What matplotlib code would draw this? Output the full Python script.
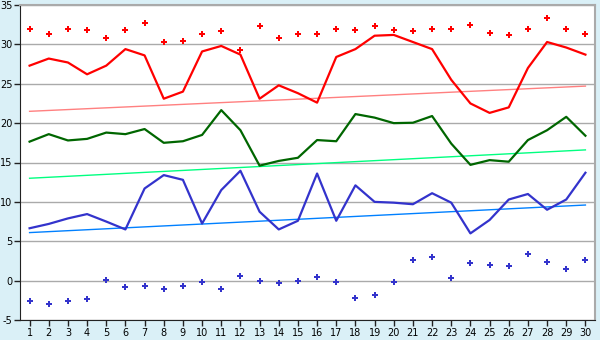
import matplotlib
matplotlib.use("Agg")
import matplotlib.pyplot as plt

plt.rcParams["axes.unicode_minus"] = False

# daily values
days = list(range(1, 31))
max_line = [27.3, 28.2, 27.7, 26.2, 27.3, 29.4, 28.6, 23.1, 24.0, 29.1,
            29.8, 28.7, 23.1, 24.8, 23.8, 22.6, 28.4, 29.4, 31.1, 31.2,
            30.3, 29.4, 25.5, 22.5, 21.3, 22.0, 27.0, 30.3, 29.6, 28.7]
max_pts = [32.0, 31.3, 31.9, 31.8, 30.8, 31.8, 32.7, 30.3, 30.4, 31.3,
           31.7, 29.3, 32.3, 30.8, 31.3, 31.3, 31.9, 31.8, 32.3, 31.8,
           31.7, 32.0, 32.0, 32.4, 31.4, 31.15, 32.0, 33.4, 31.9, 31.3]
mid_line = [17.65, 18.6, 17.8, 18.0, 18.8, 18.6, 19.25, 17.5, 17.7, 18.5,
            21.65, 19.1, 14.6, 15.2, 15.6, 17.85, 17.7, 21.15, 20.7, 20.0,
            20.05, 20.9, 17.4, 14.7, 15.3, 15.1, 17.85, 19.1, 20.8, 18.4]
min_line = [6.65, 7.2, 7.9, 8.45, 7.5, 6.5, 11.7, 13.4, 12.8, 7.25,
            11.5, 13.95, 8.75, 6.5, 7.6, 13.6, 7.6, 12.1, 10.0, 9.9,
            9.7, 11.1, 9.9, 6.0, 7.7, 10.3, 11.0, 9.0, 10.3, 13.7]
min_pts = [-2.65, -3.0, -2.65, -2.35, 0.05, -0.85, -0.7, -1.05, -0.7, -0.2,
           -1.0, 0.6, -0.05, -0.35, 0.0, 0.4, -0.2, -2.25, -1.85, -0.2,
           2.6, 2.95, 0.3, 2.2, 1.95, 1.8, 3.35, 2.35, 1.45, 2.6]
# trend lines (start / end values)
trend_days = [1, 30]
trend_max = [21.5, 24.7]
trend_mid = [13.0, 16.6]
trend_min = [6.1, 9.6]

bg = "#daf0f7"
fig = plt.figure(figsize=(6, 3.4), dpi=100, facecolor=bg)
ax = fig.add_axes([20 / 600, 20 / 340, 575 / 600, 315 / 340])
ax.set_facecolor("white")

ax.plot(trend_days, trend_max, color="#ff8080", lw=1)
ax.plot(trend_days, trend_mid, color="#00ff80", lw=1)
ax.plot(trend_days, trend_min, color="#0080ff", lw=1)

ax.plot(days, max_line, color="#ff0000", lw=1.6)
ax.plot(days, mid_line, color="#006600", lw=1.6)
ax.plot(days, min_line, color="#3333cc", lw=1.6)
ax.plot(days, max_pts, ls="none", marker="P", ms=4.8, color="#ff0000", mew=0)
ax.plot(days, min_pts, ls="none", marker="P", ms=4.8, color="#3333cc", mew=0)

ax.set_xlim(0.5, 30.5)
ax.set_ylim(-5, 35)
ax.set_xticks(days)
ax.set_yticks(range(-5, 36, 5))
ax.yaxis.grid(True, color="#aaaaaa", lw=1)
ax.set_axisbelow(True)
ax.tick_params(axis="both", labelsize=7, color="#222222", length=4, width=1, pad=1.5)
for side in ["left", "bottom"]:
    ax.spines[side].set_color("#222222")
for side in ["top", "right"]:
    ax.spines[side].set_color("#aaaaaa")
    ax.spines[side].set_linewidth(1.5)

fig.savefig("out.png", dpi=100, facecolor=bg)
